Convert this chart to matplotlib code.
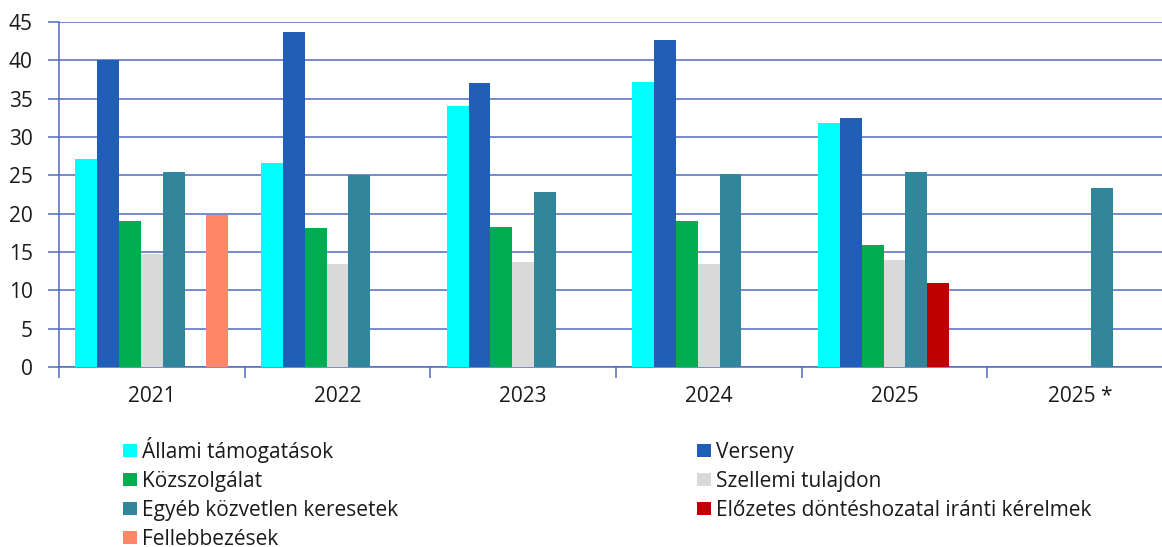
import numpy as np
import matplotlib
matplotlib.use("Agg")
import matplotlib.pyplot as plt
from matplotlib.patches import Patch

plt.rcParams['font.family'] = ['Open Sans', 'DejaVu Sans']

categories = ["2021", "2022", "2023", "2024", "2025", "2025 *"]
series_names = ["Állami támogatások", "Verseny", "Közszolgálat", "Szellemi tulajdon",
                "Egyéb közvetlen keresetek", "Előzetes döntéshozatal iránti kérelmek",
                "Fellebbezések"]
allami = [27.1, 26.6, 34.1, 37.2, 31.8, np.nan]
verseny = [40.0, 43.7, 37.1, 42.6, 32.5, np.nan]
kozszolgalat = [19.1, 18.1, 18.2, 19.1, 15.9, np.nan]
szellemi = [14.7, 13.4, 13.7, 13.5, 13.9, np.nan]
egyeb = [25.4, 25.1, 22.8, 25.2, 25.4, 23.4]
elozetes = [np.nan, np.nan, np.nan, np.nan, 10.9, np.nan]
fellebbezesek = [19.8, np.nan, np.nan, np.nan, np.nan, np.nan]
yticks = [0, 5, 10, 15, 20, 25, 30, 35, 40, 45]

series = [allami, verseny, kozszolgalat, szellemi, egyeb, elozetes, fellebbezesek]
colors = ["#00FFFF", "#215EB6", "#00AC50", "#D9D9D9", "#31869B", "#C00000", "#FF8767"]

W, H = 1162, 547
fig = plt.figure(figsize=(W / 100, H / 100), dpi=100)
ax = fig.add_axes([59 / W, (H - 367) / H, (W - 59) / W, (367 - 22) / H])

grid_c = "#5069C0"
n = len(series)
slot = 0.1175
x = np.arange(len(categories))
for i, (vals, c) in enumerate(zip(series, colors)):
    offs = (i - (n - 1) / 2) * slot
    ax.bar(x + offs, vals, width=slot, color=c, zorder=3)

ax.set_yticks(yticks)
ax.set_yticklabels([str(v) for v in yticks], fontsize=15, color="#1a1a1a")
ax.yaxis.grid(True, color=grid_c, linewidth=1.1, zorder=0)
ax.set_axisbelow(True)
ax.tick_params(axis='y', length=8, color=grid_c, width=1.1, pad=11)

ax.set_xticks(np.arange(len(categories) + 1) - 0.5)
ax.set_xticklabels([])
ax.set_xticks(x, minor=True)
ax.set_xticklabels(categories, minor=True, fontsize=15, color="#1a1a1a")
ax.tick_params(axis='x', which='major', length=8, color=grid_c, width=1.1)
ax.tick_params(axis='x', which='minor', length=0, pad=14)

ax.set_ylim(0, 45)
ax.set_xlim(-0.5, -0.5 + (W - 59) / 185.65)

for s in ["top", "right"]:
    ax.spines[s].set_visible(False)
ax.spines["left"].set_color(grid_c)
ax.spines["bottom"].set_color(grid_c)
ax.spines["left"].set_linewidth(1.1)
ax.spines["bottom"].set_linewidth(1.1)

handles = [Patch(facecolor=c, edgecolor='none') for c in colors]
col1 = [0, 2, 4, 6]
col2 = [1, 3, 5]
common = dict(frameon=False, fontsize=15, handlelength=0.67, handleheight=0.62,
              handletextpad=0.25, labelspacing=0.38, borderpad=0, borderaxespad=0,
              labelcolor="#1a1a1a")
fig.legend([handles[i] for i in col1], [series_names[i] for i in col1],
           loc="upper left", bbox_to_anchor=(123 / W, 1 - 437 / H), **common)
fig.legend([handles[i] for i in col2], [series_names[i] for i in col2],
           loc="upper left", bbox_to_anchor=(697 / W, 1 - 442 / H), **common)

fig.savefig("out.png", dpi=100)
